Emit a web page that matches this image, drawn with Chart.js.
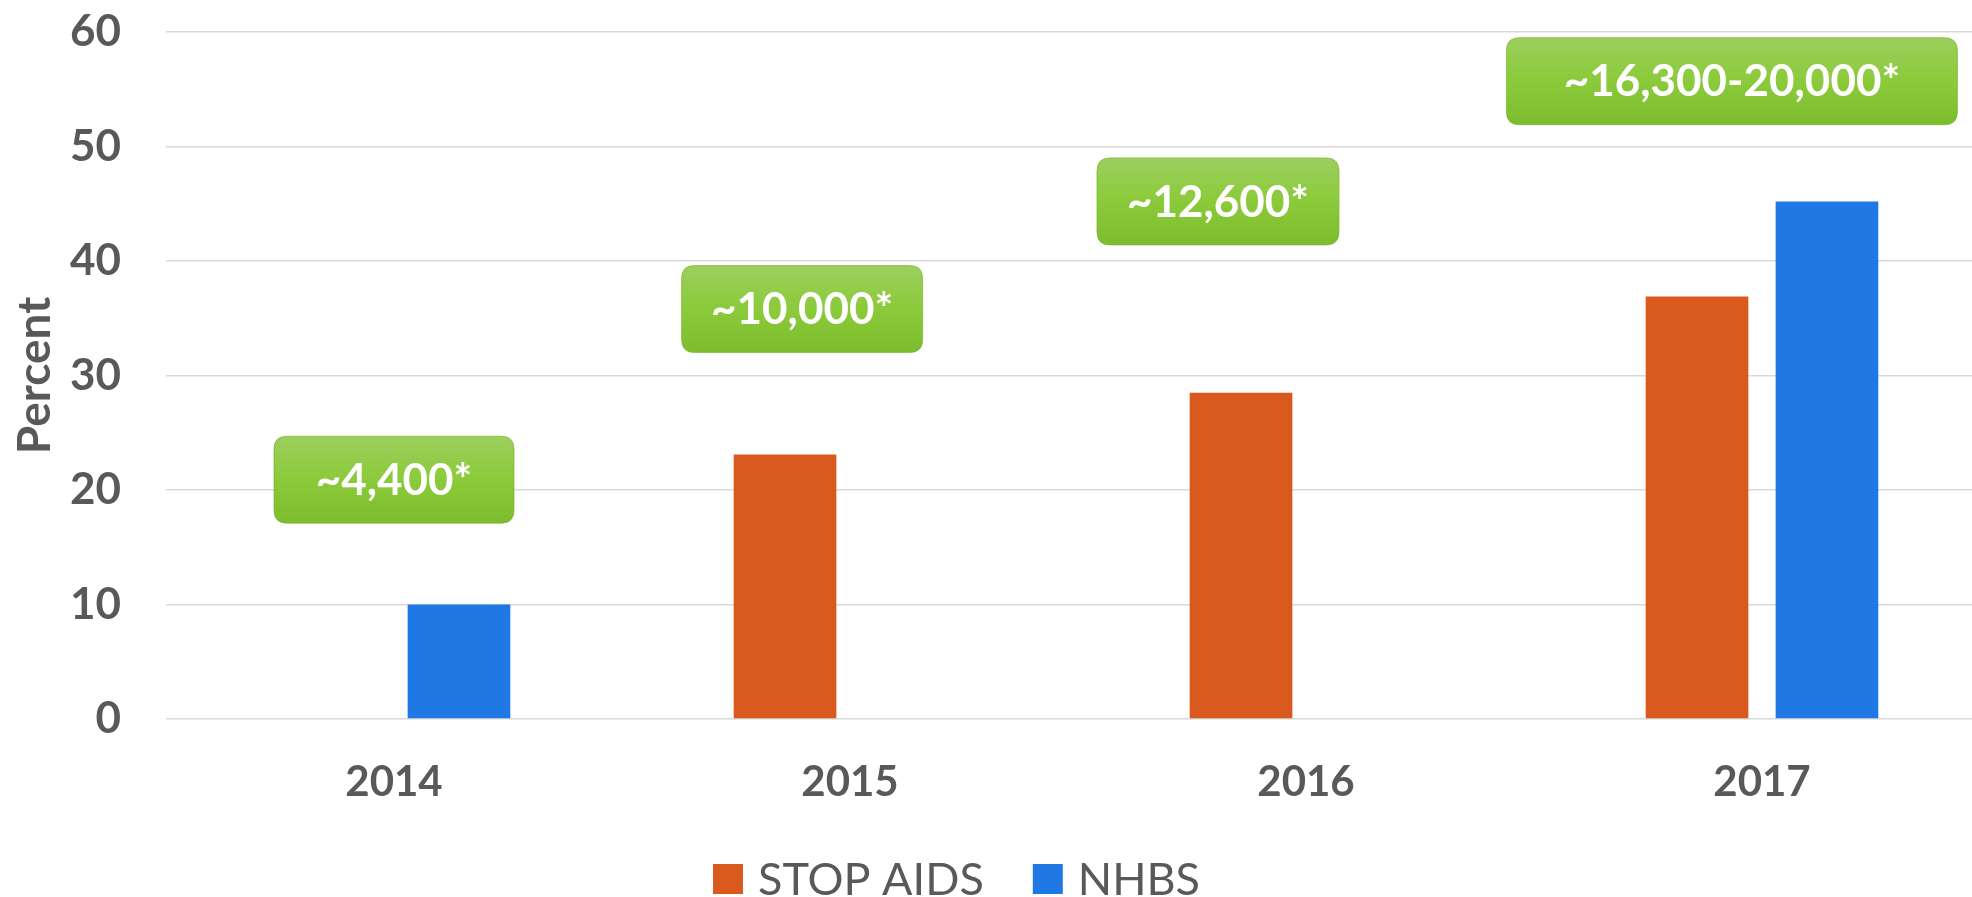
<!DOCTYPE html>
<html>
<head>
<meta charset="utf-8">
<script src="https://cdn.jsdelivr.net/npm/chart.js@4.4.1/dist/chart.umd.min.js"></script>
<style>
html, body { margin: 0; padding: 0; background: #fff; overflow: hidden; }
#wrap { width: 1972px; height: 897px; overflow: hidden; position: relative; }
canvas { display: block; }
</style>
</head>
<body>
<div id="wrap"><canvas id="chart" width="1990" height="897"></canvas></div>
<script>
const years = ['2014', '2015', '2016', '2017'];
const stopAids = [null, 23.1, 28.5, 36.9];
const nhbs = [10, null, null, 45.2];
const yTicks = [0, 10, 20, 30, 40, 50, 60];
const sampleSizes = ['~4,400*', '~10,000*', '~12,600*', '~16,300-20,000*'];

const grey = '#595959';

// placement of the green callouts: y in axis units, x shift as a share of one category
const calloutPlaces = [
    { y: 20.9, shift: 0, w: 240 },
    { y: 35.8, shift: -0.105, w: 241 },
    { y: 45.2, shift: -0.193, w: 242 },
    { y: 55.7, shift: -0.066, w: 451 }
];

function roundedBox(ctx, x, y, w, h, r) {
    ctx.beginPath();
    ctx.moveTo(x + r, y);
    ctx.lineTo(x + w - r, y);
    ctx.quadraticCurveTo(x + w, y, x + w, y + r);
    ctx.lineTo(x + w, y + h - r);
    ctx.quadraticCurveTo(x + w, y + h, x + w - r, y + h);
    ctx.lineTo(x + r, y + h);
    ctx.quadraticCurveTo(x, y + h, x, y + h - r);
    ctx.lineTo(x, y + r);
    ctx.quadraticCurveTo(x, y, x + r, y);
    ctx.closePath();
}

const callouts = {
    id: 'callouts',
    afterDatasetsDraw(chart) {
        const ctx = chart.ctx;
        const xs = chart.scales.x;
        const ys = chart.scales.y;
        const step = xs.getPixelForValue(1) - xs.getPixelForValue(0);
        ctx.save();
        sampleSizes.forEach((txt, i) => {
            const p = calloutPlaces[i];
            const cx = xs.getPixelForValue(i) + p.shift * step;
            const cy = ys.getPixelForValue(p.y);
            const h = 87;
            const left = cx - p.w / 2;
            const top = cy - h / 2;
            const g = ctx.createLinearGradient(0, top, 0, top + h);
            g.addColorStop(0, '#9ccf5e');
            g.addColorStop(0.5, '#8bca3a');
            g.addColorStop(1, '#7dbd2d');
            roundedBox(ctx, left, top, p.w, h, 13);
            ctx.fillStyle = g;
            ctx.fill();
            ctx.strokeStyle = 'rgba(120,180,50,0.7)';
            ctx.lineWidth = 1;
            ctx.stroke();
            ctx.fillStyle = '#fff';
            ctx.font = 'bold 44px Lato';
            ctx.textAlign = 'center';
            ctx.textBaseline = 'middle';
            ctx.fillText(txt, cx, cy + 1);
        });
        ctx.restore();
    }
};

const bottomLegend = {
    id: 'bottomLegend',
    afterDraw(chart) {
        const ctx = chart.ctx;
        ctx.save();
        ctx.font = '45px Lato';
        ctx.textAlign = 'left';
        ctx.textBaseline = 'alphabetic';
        let x = 713;
        chart.data.datasets.forEach(ds => {
            ctx.fillStyle = ds.backgroundColor;
            ctx.fillRect(x, 864, 30, 30);
            ctx.fillStyle = grey;
            ctx.fillText(ds.label, x + 45, 895);
            x += 45 + ctx.measureText(ds.label).width + 49;
        });
        ctx.restore();
    }
};

function initChart() {
    const ctx = document.getElementById('chart').getContext('2d');
    new Chart(ctx, {
        type: 'bar',
        data: {
            labels: years,
            datasets: [
                { label: 'STOP AIDS', data: stopAids, backgroundColor: '#d9591e' },
                { label: 'NHBS', data: nhbs, backgroundColor: '#1f78e3' }
            ]
        },
        options: {
            responsive: false,
            animation: false,
            layout: { padding: { top: 32, bottom: 91, left: 0, right: 0 } },
            datasets: { bar: { categoryPercentage: 0.57, barPercentage: 0.79 } },
            plugins: {
                legend: { display: false },
                tooltip: { enabled: false }
            },
            scales: {
                x: {
                    afterFit: axis => { axis.height = 87; },
                    grid: { display: false },
                    border: { display: false },
                    ticks: {
                        color: grey,
                        padding: 30,
                        font: { family: 'Lato', weight: 'bold', size: 42, lineHeight: 1.2 }
                    }
                },
                y: {
                    min: 0,
                    max: 60,
                    afterFit: axis => { axis.width = 166; axis.paddingTop = 0; },
                    afterBuildTicks: axis => { axis.ticks = yTicks.map(v => ({ value: v })); },
                    grid: { color: '#d9d9d9', lineWidth: 1.5, drawTicks: false },
                    border: { display: false },
                    ticks: {
                        color: grey,
                        padding: 45,
                        font: { family: 'Lato', weight: 'bold', size: 44, lineHeight: 1.2 }
                    },
                    title: {
                        display: true,
                        text: 'Percent',
                        color: grey,
                        padding: { top: 8, bottom: 10 },
                        font: { family: 'Lato', weight: 'bold', size: 46, lineHeight: 1.2 }
                    }
                }
            }
        },
        plugins: [callouts, bottomLegend]
    });
}

document.addEventListener('DOMContentLoaded', function() {
    initChart();
});
</script>
</body>
</html>
